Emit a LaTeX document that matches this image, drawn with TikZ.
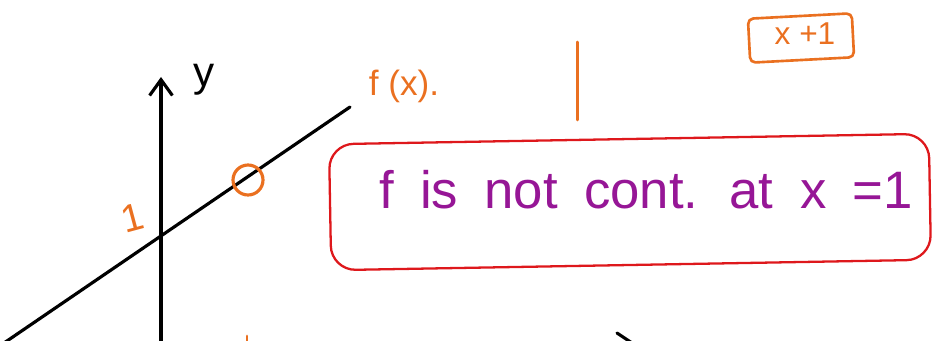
\documentclass[tikz,border=0pt]{standalone}
\usepackage{fontspec}
\setmainfont{Liberation Sans}
\usetikzlibrary{arrows.meta}
\definecolor{penorange}{RGB}{234,112,32}
\definecolor{penred}{RGB}{222,24,28}
\definecolor{penpurple}{RGB}{150,22,150}
\begin{document}
\begin{tikzpicture}[x=0.02cm, y=-0.02cm, line cap=round, line join=round,
    every node/.style={inner sep=0pt},
    ink/.style={line width=1.8pt, black},
    orange ink/.style={line width=1.7pt, penorange},
    note/.style={text=penorange},
    >={Straight Barb[length=9pt, width=13pt]}]
    \useasboundingbox (0,0) rectangle (949,341);
    % axes and graph
    \coordinate (ybot) at (161,345);
    \coordinate (ytop) at (161,77);
    \coordinate (lstart) at (4,343);
    \coordinate (lend) at (350,107);
    \coordinate (xtipa) at (617,333);
    \coordinate (xtipb) at (632,343);
    \draw[ink, ->] (ybot) -- (ytop);
    \draw[ink] (lstart) -- (lend);
    \draw[ink] (xtipa) -- (xtipb);
    \node (ylab) at (204,80) {\fontsize{24}{26}\selectfont y};
    \node[note] (flab) at (404,86) {\fontsize{20}{22}\selectfont f (x).};
    \node[note, rotate=15] (one) at (132,218) {\fontsize{22}{24}\selectfont 1};
    \node[draw=penorange, line width=1.8pt, circle, minimum size=0.6cm] (hole) at (248,180) {};
    \coordinate (ticka) at (247,336);
    \coordinate (tickb) at (247,343);
    \draw[orange ink] (ticka) -- (tickb);
    % the x = 1 mark and the formula
    \coordinate (marktop) at (577,42);
    \coordinate (markbot) at (577,120);
    \draw[orange ink] (marktop) -- (markbot);
    \node[draw=penorange, line width=1.5pt, rotate=3, minimum width=2.08cm, minimum height=0.88cm, rounded corners=3pt] (rule) at (801,38) {};
    \node[note] (rulelab) at (805,34) {\fontsize{18}{20}\selectfont x +1};
    % the remark
    \node[draw=penred, line width=1.3pt, rounded corners=14pt, rotate=1, minimum width=12cm, minimum height=2.52cm] (frame) at (630,202) {};
    \node[text=penpurple] (msg) at (646,190) {\fontsize{30}{32}\selectfont\spaceskip=0.5em f is not cont. at x =1};
\end{tikzpicture}
\end{document}
